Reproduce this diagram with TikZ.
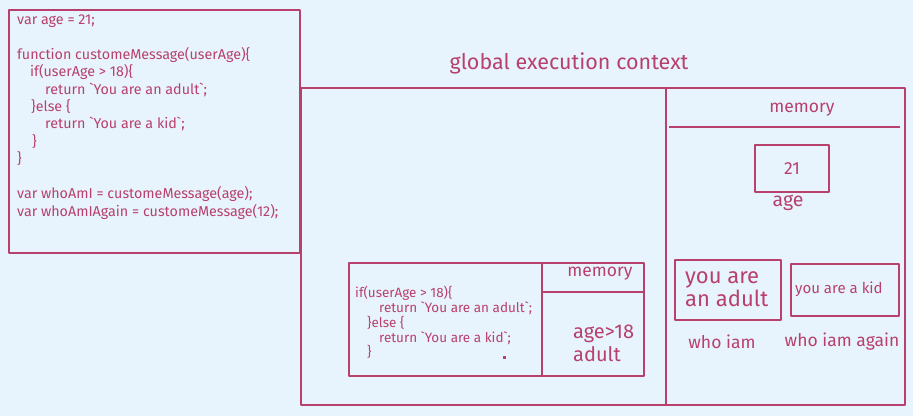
\documentclass[tikz,border=0pt]{standalone}
\usepackage{fontspec}
\setmainfont{Fira Sans}[Ligatures=TeXOff]
\definecolor{bgc}{HTML}{E7F4FD}
\definecolor{ink}{HTML}{B8406C}
\newcommand{\bq}{\symbol{96}}
\tikzset{
  sk/.style={draw=ink, line width=2pt, line join=round},
  txt/.style={text=ink, inner sep=0pt},
  cl/.style={txt, anchor=base west, font=\fontsize{14.3}{17}\selectfont},
  scl/.style={txt, anchor=base west, font=\fontsize{13.5}{15}\selectfont},
  lbl/.style={txt, font=\fontsize{17.5}{20}\selectfont},
}
\begin{document}
\begin{tikzpicture}[x=1pt,y=-1pt]
\fill[bgc] (0,0) rectangle (913,416);
\useasboundingbox (0,0) rectangle (913,416);

% code box
\draw[sk] (9,10) rectangle (300,253);
\node[cl] (c1) at (17,24.5) {var age = 21;};
\node[cl] (c2) at (17,59) {function customeMessage(userAge)\{};
\node[cl] (c3) at (30,76.5) {if(userAge > 18)\{};
\node[cl] (c4) at (45,94) {return \bq You are an adult\bq;};
\node[cl] (c5) at (31,111) {\}else \{};
\node[cl] (c6) at (45,128.5) {return \bq You are a kid\bq;};
\node[cl] (c7) at (32,146) {\}};
\node[cl] (c8) at (17,163) {\}};
\node[cl] (c9) at (17,198.5) {var whoAmI = customeMessage(age);};
\node[cl] (c10) at (17,216) {var whoAmIAgain = customeMessage(12);};

% global execution context
\node[txt, font=\fontsize{21.5}{24}\selectfont] (gtitle) at (569,63) {global execution context};
\draw[sk] (301,88) rectangle (905,405);
\draw[sk] (666,88) -- (666,405);

% global memory
\node[lbl] (gmem) at (802,110) {memory};
\draw[sk] (669,127) -- (900,127);
\node[sk, minimum width=74pt, minimum height=47pt, anchor=north west] (v21) at (754,144) {};
\node[lbl] at (v21) {21};
\node[lbl, font=\fontsize{19.5}{22}\selectfont] (age) at (788,203) {age};

\node[sk, minimum width=106pt, minimum height=60pt, anchor=north west] (adult) at (674,259) {};
\node[txt, anchor=base west, font=\fontsize{22}{23}\selectfont] (a1) at (685,283) {you are};
\node[txt, anchor=base west, font=\fontsize{22}{23}\selectfont] (a2) at (685,306) {an adult};
\node[sk, minimum width=108pt, minimum height=52pt, anchor=north west] (kid) at (790,263) {};
\node[txt, anchor=west, font=\fontsize{15}{17}\selectfont] (kidt) at (795,289) {you are a kid};
\node[lbl] (wia) at (722,342) {who iam};
\node[lbl] (wiaa) at (842,342) {who iam again};

% function execution context
\draw[sk] (349,263) rectangle (644,376);
\draw[sk] (542,263) -- (542,376);
\draw[sk] (542,292) -- (644,292);
\node[lbl] (fmem) at (600,274) {memory};
\node[scl] (f1) at (355,297) {if(userAge > 18)\{};
\node[scl] (f2) at (379,312) {return \bq You are an adult\bq;};
\node[scl] (f3) at (367,327) {\}else \{};
\node[scl] (f4) at (379,342) {return \bq You are a kid\bq;};
\node[scl] (f5) at (367,356) {\}};
\fill[ink] (503,356) rectangle (506,359);
\node[txt, anchor=base west, font=\fontsize{20}{23}\selectfont] (fv1) at (573,338) {age>18};
\node[txt, anchor=base west, font=\fontsize{20}{23}\selectfont] (fv2) at (573,361) {adult};
\end{tikzpicture}
\end{document}
